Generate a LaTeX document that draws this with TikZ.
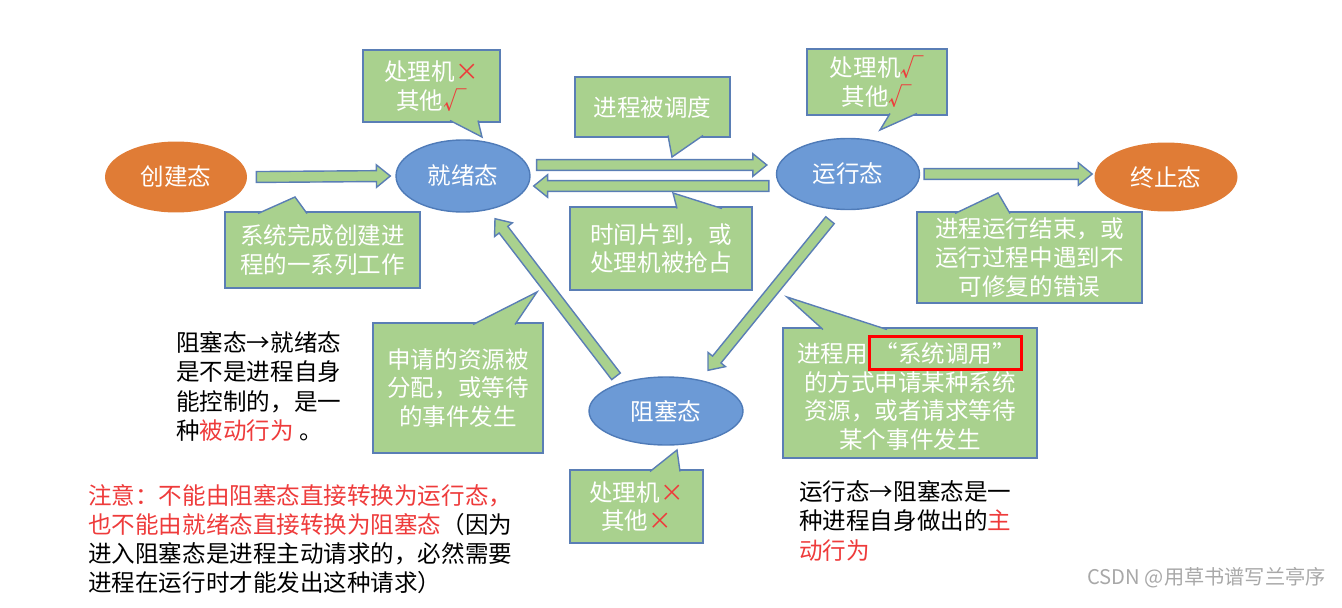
\documentclass[tikz,border=0pt]{standalone}
\usepackage{fontspec}
\setmainfont{Noto Sans CJK SC}
\usepackage{xcolor}
\usetikzlibrary{shapes.geometric, calc}

\definecolor{cgreen}{HTML}{A9D18E}
\definecolor{cline}{HTML}{5A7EB5}
\definecolor{cblue}{HTML}{6C9AD6}
\definecolor{cblueline}{HTML}{4F7BB8}
\definecolor{corange}{HTML}{E07C36}
\definecolor{cred}{HTML}{EE3B3B}
\definecolor{cmark}{HTML}{A8A8A8}

\newcommand{\cjkbody}{\fontsize{13.4pt}{16.4pt}\selectfont}
\setlength{\fboxsep}{2.2pt}
\setlength{\fboxrule}{1.7pt}

% block arrow from #1 to #2
\newcommand{\blockarrow}[2]{%
    \coordinate (ba-s) at #1;
    \coordinate (ba-t) at #2;
    \coordinate (ba-h) at ($(ba-t)!7.9pt!(ba-s)$);
    \filldraw[barrow] ($(ba-s)!3.1pt!90:(ba-t)$) -- ($(ba-h)!3.1pt!90:(ba-t)$)
        -- ($(ba-h)!6.4pt!90:(ba-t)$) -- (ba-t) -- ($(ba-h)!6.4pt!-90:(ba-t)$)
        -- ($(ba-h)!3.1pt!-90:(ba-t)$) -- ($(ba-s)!3.1pt!-90:(ba-t)$) -- cycle;
}

\begin{document}
\begin{tikzpicture}[
    x=0.02cm, y=-0.02cm,
    state/.style={ellipse, inner sep=0pt, text=white, font=\cjkbody},
    endstate/.style={state, fill=corange},
    procstate/.style={state, fill=cblue, draw=cblueline, line width=0.8pt},
    tipbox/.style={rectangle, draw=cline, fill=cgreen, line width=0.8pt, text=white, align=center, inner sep=0pt, font=\cjkbody},
    ptr/.style={draw=cline, fill=cgreen, line width=0.8pt},
    barrow/.style={draw=cline, fill=cgreen, line width=0.8pt, line join=miter},
    note/.style={anchor=west, align=left, inner sep=0pt, font=\fontsize{13.4pt}{16.6pt}\selectfont}
]
    \useasboundingbox (0,0) rectangle (1342,608);

    % States
    \node[endstate, minimum width=2.84cm, minimum height=1.42cm] (create) at (176,177) {创建态};
    \node[procstate, minimum width=2.68cm, minimum height=1.44cm] (ready) at (463,176) {就绪态};
    \node[procstate, minimum width=2.86cm, minimum height=1.42cm] (running) at (848,174) {运行态};
    \node[endstate, minimum width=2.86cm, minimum height=1.38cm] (done) at (1166,177) {终止态};
    \node[procstate, minimum width=3.08cm, minimum height=1.36cm] (blocked) at (666,411) {阻塞态};

    % Transitions
    \blockarrow{($(create.east)+(9,0)$)}{($(ready.west)+(-5,0)$)}
    \blockarrow{($(ready.east)+(6,-11)$)}{($(running.west)+(-9,-9)$)}
    \blockarrow{($(running.west)+(-7,12)$)}{($(ready.east)+(3,10)$)}
    \blockarrow{($(running.east)+(4,0)$)}{($(done.west)+(-2,-3)$)}
    \blockarrow{($(running.south)+(-18,10)$)}{($(blocked.north)+(42,-6)$)}
    \blockarrow{($(blocked.north)+(-50,0)$)}{($(ready.south)+(32,6)$)}

    % Callouts
    \node[tipbox, minimum width=2.74cm, minimum height=1.44cm] (ready_res) at (431.5,86) {处理机\textcolor{cred}{×}\\其他\textcolor{cred}{√}};
    \filldraw[ptr] (450,120.5) -- (482,137) -- (478,120.5);

    \node[tipbox, minimum width=3.1cm, minimum height=1.2cm] (sched) at (652.5,107) {进程被调度};
    \filldraw[ptr] (668,135.5) -- (672,157) -- (703,135.5);

    \node[tipbox, minimum width=3.64cm, minimum height=1.66cm] (timeout) at (661,248.5) {时间片到，或\\处理机被抢占};
    \filldraw[ptr] (677,208.5) -- (673,193) -- (722,208.5);

    \node[tipbox, minimum width=2.8cm, minimum height=1.32cm] (run_res) at (877,82) {处理机\textcolor{cred}{√}\\其他\textcolor{cred}{√}};
    \filldraw[ptr] (890,113.5) -- (880,130) -- (917,113.5);

    \node[tipbox, minimum width=3.9cm, minimum height=1.52cm] (admit) at (322.5,250) {系统完成创建进\\程的一系列工作};
    \filldraw[ptr] (258,213.5) -- (295,197) -- (307,213.5);

    \node[tipbox, minimum width=4.5cm, minimum height=1.82cm] (finish) at (1029.5,257.5) {进程运行结束，或\\运行过程中遇到不\\可修复的错误};
    \filldraw[ptr] (955,213.5) -- (998,193) -- (1010,213.5);

    \node[tipbox, minimum width=3.4cm, minimum height=2.6cm] (wakeup) at (458,388) {申请的资源被\\分配，或等待\\的事件发生};
    \filldraw[ptr] (473,324.5) -- (537,292) -- (515,324.5);

    \node[tipbox, minimum width=5.08cm, minimum height=2.6cm] (request) at (910,393) {进程用\fcolorbox{red}{cgreen}{“系统调用”}\\的方式申请某种系统\\资源，或者请求等待\\某个事件发生};
    \filldraw[ptr] (823,329.5) -- (787,297) -- (887,329.5);

    \node[tipbox, minimum width=2.66cm, minimum height=1.46cm] (blocked_res) at (636.5,506.5) {处理机\textcolor{cred}{×}\\其他\textcolor{cred}{×}};
    \filldraw[ptr] (650,471.5) -- (677,450) -- (680,471.5);

    % Notes
    \node[note] (passive) at (176,386.5) {阻塞态→就绪态\\是不是进程自身\\能控制的，是一\\种\textcolor{cred}{被动行为} 。};
    \node[note] (warning) at (88,539) {\textcolor{cred}{注意：不能由阻塞态直接转换为运行态，}\\\textcolor{cred}{也不能由就绪态直接转换为阻塞态}（因为\\进入阻塞态是进程主动请求的，必然需要\\进程在运行时才能发出这种请求）};
    \node[note] (active) at (799,521) {运行态→阻塞态是一\\种进程自身做出的\textcolor{cred}{主}\\\textcolor{cred}{动行为}};

    \node[anchor=east, inner sep=0pt, text=cmark, font=\fontsize{11.5pt}{13pt}\selectfont] (mark) at (1326,578) {CSDN @用草书谱写兰亭序};

\end{tikzpicture}
\end{document}
